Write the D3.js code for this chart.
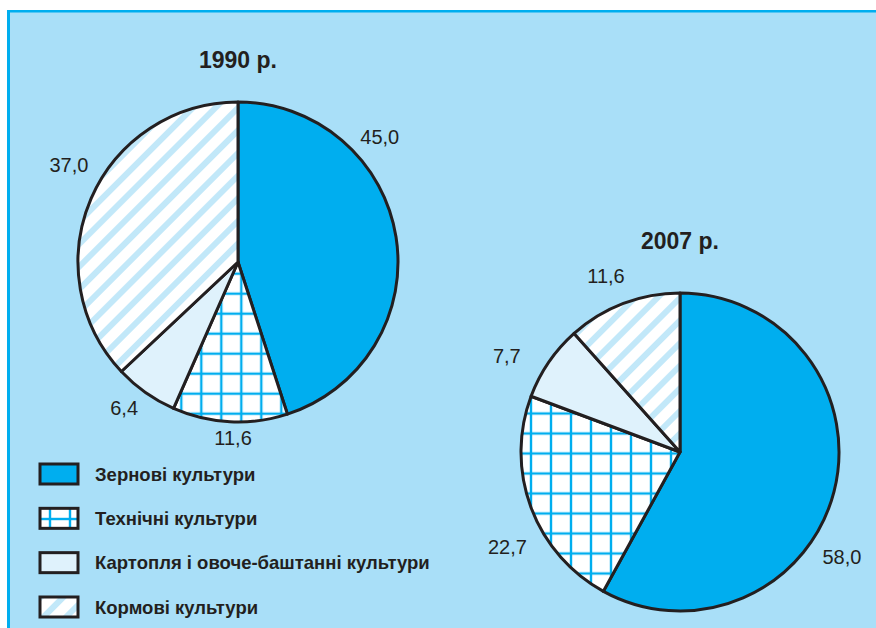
<!DOCTYPE html>
<html>
<head>
<meta charset="utf-8">
<script src="https://cdn.jsdelivr.net/npm/d3@7"></script>
<style>
  body { margin: 0; background: #fff; }
  text { font-family: "Liberation Sans", Arial, sans-serif; fill: #231f20; }
</style>
</head>
<body>
<div id="chart"></div>
<script>
// data
var categories = ["Зернові культури", "Технічні культури", "Картопля і овоче-баштанні культури", "Кормові культури"];
var years = ["1990 р.", "2007 р."];
var values1990 = [45.0, 11.6, 6.4, 37.0];
var values2007 = [58.0, 22.7, 7.7, 11.6];

// layout
var width = 876, height = 628;
var pies = [
  { title: years[0], values: values1990, cx: 238, cy: 262, r: 160, titleY: 68,
    labelAngle: [48.6, 181.6, 218, 299.9], labelDist: [189, 176, 185, 195], grid: [3.3, 11.7] },
  { title: years[1], values: values2007, cx: 680, cy: 452, r: 159, titleY: 249,
    labelAngle: [123, 241.2, 299, 337.2], labelDist: [193, 197, 198, 191], grid: [11, 1.5] }
];

var fmt = d3.formatLocale({ decimal: ",", thousands: " ", grouping: [3], currency: ["", ""] }).format(".1f");

var svg = d3.select("#chart").append("svg")
  .attr("width", width)
  .attr("height", height);

var defs = svg.append("defs");

// diagonal hatch for fodder crops
var hatch = defs.append("pattern")
  .attr("id", "hatch")
  .attr("patternUnits", "userSpaceOnUse")
  .attr("width", 16).attr("height", 16)
  .attr("patternTransform", "rotate(45)");
hatch.append("rect").attr("width", 16).attr("height", 16).attr("fill", "#fff");
hatch.append("rect").attr("x", 0).attr("width", 6).attr("height", 16).attr("fill", "#c2e8f9");

// grid patterns for technical crops (one per pie + legend)
function gridPattern(id, ox, oy) {
  var p = defs.append("pattern")
    .attr("id", id)
    .attr("patternUnits", "userSpaceOnUse")
    .attr("x", ox).attr("y", oy)
    .attr("width", 20).attr("height", 20);
  p.append("rect").attr("width", 20).attr("height", 20).attr("fill", "#fff");
  p.append("rect").attr("x", -1.2).attr("width", 2.4).attr("height", 20).attr("fill", "#00aeef");
  p.append("rect").attr("x", 18.8).attr("width", 2.4).attr("height", 20).attr("fill", "#00aeef");
  p.append("rect").attr("y", -1.2).attr("width", 20).attr("height", 2.4).attr("fill", "#00aeef");
  p.append("rect").attr("y", 18.8).attr("width", 20).attr("height", 2.4).attr("fill", "#00aeef");
}
pies.forEach(function(p, i) { gridPattern("grid" + i, p.grid[0], p.grid[1]); });
gridPattern("gridLegend", 10, -1);

function fillFor(i, pieIdx) {
  return ["#00aeef", "url(#" + pieIdx + ")", "#dff2fc", "url(#hatch)"][i];
}

// background panel with blue frame
svg.append("rect")
  .attr("x", 9).attr("y", 11)
  .attr("width", width - 9).attr("height", height - 11)
  .attr("fill", "#a9dff8");
svg.append("line")
  .attr("x1", 7).attr("x2", width).attr("y1", 11.2).attr("y2", 11.2)
  .attr("stroke", "#00aeef").attr("stroke-width", 2.6);
svg.append("line")
  .attr("x1", 8.5).attr("x2", 8.5).attr("y1", 10).attr("y2", height)
  .attr("stroke", "#00aeef").attr("stroke-width", 3);

var pie = d3.pie().sort(null).value(function(d) { return d; });

pies.forEach(function(p, pi) {
  var g = svg.append("g").attr("transform", "translate(" + p.cx + "," + p.cy + ")");
  var arc = d3.arc().innerRadius(0).outerRadius(p.r);

  g.selectAll("path")
    .data(pie(p.values))
    .enter()
    .append("path")
    .attr("d", arc)
    .attr("fill", function(d, i) { return fillFor(i, "grid" + pi); })
    .attr("stroke", "#231f20")
    .attr("stroke-width", 3)
    .attr("stroke-linejoin", "round");

  // value labels
  g.selectAll("text.val")
    .data(p.values)
    .enter()
    .append("text")
    .attr("class", "val")
    .attr("x", function(d, i) { return p.labelDist[i] * Math.sin(p.labelAngle[i] * Math.PI / 180); })
    .attr("y", function(d, i) { return -p.labelDist[i] * Math.cos(p.labelAngle[i] * Math.PI / 180); })
    .attr("text-anchor", "middle")
    .attr("dominant-baseline", "central")
    .style("font-size", "20px")
    .text(function(d) { return fmt(d); });

  // title
  svg.append("text")
    .attr("x", p.cx)
    .attr("y", p.titleY)
    .attr("text-anchor", "middle")
    .style("font-size", "23px")
    .style("font-weight", "bold")
    .text(p.title);
});

// legend
var legend = svg.append("g");
var rowY = d3.scalePoint().domain(categories).range([474, 607]);

legend.selectAll("rect")
  .data(categories)
  .enter()
  .append("rect")
  .attr("x", 40)
  .attr("y", function(d) { return rowY(d) - 10; })
  .attr("width", 38)
  .attr("height", 20)
  .attr("fill", function(d, i) { return fillFor(i, "gridLegend"); })
  .attr("stroke", "#231f20")
  .attr("stroke-width", 3);

legend.selectAll("text")
  .data(categories)
  .enter()
  .append("text")
  .attr("x", 95)
  .attr("y", function(d) { return rowY(d); })
  .attr("dominant-baseline", "central")
  .style("font-size", "18.5px")
  .style("font-weight", "bold")
  .text(function(d) { return d; });
</script>
</body>
</html>
